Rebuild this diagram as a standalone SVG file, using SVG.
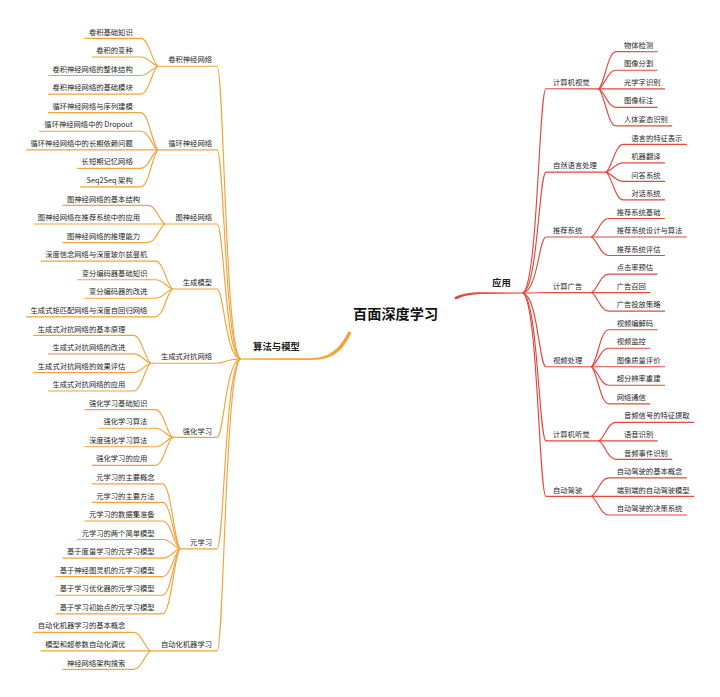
<svg xmlns="http://www.w3.org/2000/svg" width="720" height="697" viewBox="0 0 720 697">
<style>
text{font-family:"Noto Sans CJK SC","Noto Sans",sans-serif;fill:#262626;}
.l{font-size:7.3px;}
.e{text-anchor:end;}
.m{font-size:9.4px;font-weight:bold;fill:#1e1e1e;}
.c{font-size:14.2px;font-weight:bold;fill:#111;}
#connectors path{fill:none;stroke-width:1.15;stroke-linecap:round;}
#connectors .o{stroke:#F4A23A;}
#connectors .r{stroke:#E2483D;}
#connectors .of{fill:#F4A23A;stroke:none;}
#connectors .rf{fill:#E2483D;stroke:none;}
</style>
<rect width="720" height="697" fill="#fff"/>
<g id="connectors">
<path class="of" d="M240,358.4 L310,358.2 C329,358.1 338.5,350.4 348.6,331.3 L351.4,332.7 C341.5,353.6 331,360.1 310,359.9 L240,359.6 Z"/>
<path class="rf" d="M454.4,297.3 C461.5,293.8 470,292.2 482,292.3 L523,292.5 L523,293.5 L482,293.9 C470.5,294 463,296 455.6,299.7 Z"/>
<path class="o" d="M157.7,66.2 H217 C224,66.2 225,344.9 240,359"/>
<path class="o" d="M157.7,149.8 H217 C224,149.8 225,349 240,359"/>
<path class="o" d="M165,224 H217 C224,224 225,352.5 240,359"/>
<path class="o" d="M172.3,289 H217 C224,289 225,355.6 240,359"/>
<path class="o" d="M150.4,363.2 H217 C224,363.2 225,359.2 240,359"/>
<path class="o" d="M172.3,437.4 H217 C224,437.4 225,362.8 240,359"/>
<path class="o" d="M179.6,548.8 H217 C224,548.8 225,368.1 240,359"/>
<path class="o" d="M150.4,650.9 H217 C224,650.9 225,373 240,359"/>
<path class="o" d="M84.9,38.4 H140.7 C148.7,38.4 151.7,60.6 157.7,66.2"/>
<path class="o" d="M92.2,57 H140.7 C148.7,57 151.7,64.4 157.7,66.2"/>
<path class="o" d="M48.4,75.5 H140.7 C148.7,75.5 151.7,68.1 157.7,66.2"/>
<path class="o" d="M48.4,94.1 H140.7 C148.7,94.1 151.7,71.8 157.7,66.2"/>
<path class="o" d="M48.4,112.6 H140.7 C148.7,112.6 151.7,142.4 157.7,149.8"/>
<path class="o" d="M39.4,131.2 H140.7 C148.7,131.2 151.7,146.1 157.7,149.8"/>
<path class="o" d="M26.5,149.8 H157.7"/>
<path class="o" d="M77.6,168.3 H140.7 C148.7,168.3 151.7,153.5 157.7,149.8"/>
<path class="o" d="M80.7,186.9 H140.7 C148.7,186.9 151.7,157.2 157.7,149.8"/>
<path class="o" d="M63,205.4 H148 C156,205.4 159,220.3 165,224"/>
<path class="o" d="M33.8,224 H165"/>
<path class="o" d="M63,242.6 H148 C156,242.6 159,227.7 165,224"/>
<path class="o" d="M41.1,261.1 H155.3 C163.3,261.1 166.3,283.4 172.3,289"/>
<path class="o" d="M77.6,279.7 H155.3 C163.3,279.7 166.3,287.1 172.3,289"/>
<path class="o" d="M84.9,298.2 H155.3 C163.3,298.2 166.3,290.8 172.3,289"/>
<path class="o" d="M26.5,316.8 H155.3 C163.3,316.8 166.3,294.6 172.3,289"/>
<path class="o" d="M33.8,335.4 H133.4 C141.4,335.4 144.4,357.6 150.4,363.2"/>
<path class="o" d="M48.4,353.9 H133.4 C141.4,353.9 144.4,361.3 150.4,363.2"/>
<path class="o" d="M33.8,372.5 H133.4 C141.4,372.5 144.4,365.1 150.4,363.2"/>
<path class="o" d="M48.4,391 H133.4 C141.4,391 144.4,368.8 150.4,363.2"/>
<path class="o" d="M84.9,409.6 H155.3 C163.3,409.6 166.3,431.8 172.3,437.4"/>
<path class="o" d="M99.5,428.2 H155.3 C163.3,428.2 166.3,435.6 172.3,437.4"/>
<path class="o" d="M84.9,446.7 H155.3 C163.3,446.7 166.3,439.3 172.3,437.4"/>
<path class="o" d="M92.2,465.3 H155.3 C163.3,465.3 166.3,443 172.3,437.4"/>
<path class="o" d="M92.2,483.8 H162.6 C170.6,483.8 173.6,535.8 179.6,548.8"/>
<path class="o" d="M92.2,502.4 H162.6 C170.6,502.4 173.6,539.5 179.6,548.8"/>
<path class="o" d="M84.9,521 H162.6 C170.6,521 173.6,543.2 179.6,548.8"/>
<path class="o" d="M77.6,539.5 H162.6 C170.6,539.5 173.6,546.9 179.6,548.8"/>
<path class="o" d="M63,558.1 H162.6 C170.6,558.1 173.6,550.7 179.6,548.8"/>
<path class="o" d="M55.7,576.6 H162.6 C170.6,576.6 173.6,554.4 179.6,548.8"/>
<path class="o" d="M55.7,595.2 H162.6 C170.6,595.2 173.6,558.1 179.6,548.8"/>
<path class="o" d="M55.7,613.8 H162.6 C170.6,613.8 173.6,561.8 179.6,548.8"/>
<path class="o" d="M33.8,632.3 H133.4 C141.4,632.3 144.4,647.2 150.4,650.9"/>
<path class="o" d="M41.1,650.9 H150.4"/>
<path class="o" d="M63,669.4 H133.4 C141.4,669.4 144.4,654.6 150.4,650.9"/>
<path class="r" d="M523,293 C538,283.2 539,88.8 546,88.8 H599"/>
<path class="r" d="M523,293 C538,287.2 539,172.1 546,172.1 H606.3"/>
<path class="r" d="M523,293 C538,290.3 539,237 546,237 H591.7"/>
<path class="r" d="M523,293 C538,293 539,292.6 546,292.6 H591.7"/>
<path class="r" d="M523,293 C538,296.5 539,366.7 546,366.7 H591.7"/>
<path class="r" d="M523,293 C538,300.1 539,440.8 546,440.8 H599"/>
<path class="r" d="M523,293 C538,302.8 539,496.4 546,496.4 H591.7"/>
<path class="r" d="M599,88.8 C605,81.4 608,51.7 616,51.7 H657.2"/>
<path class="r" d="M599,88.8 C605,85.1 608,70.2 616,70.2 H657.2"/>
<path class="r" d="M599,88.8 H664.5"/>
<path class="r" d="M599,88.8 C605,92.5 608,107.3 616,107.3 H657.2"/>
<path class="r" d="M599,88.8 C605,96.2 608,125.8 616,125.8 H671.8"/>
<path class="r" d="M606.3,172.1 C612.3,166.6 615.3,144.4 623.3,144.4 H686.4"/>
<path class="r" d="M606.3,172.1 C612.3,170.3 615.3,162.9 623.3,162.9 H664.5"/>
<path class="r" d="M606.3,172.1 C612.3,174 615.3,181.4 623.3,181.4 H664.5"/>
<path class="r" d="M606.3,172.1 C612.3,177.7 615.3,199.9 623.3,199.9 H664.5"/>
<path class="r" d="M591.7,237 C597.7,233.3 600.7,218.5 608.7,218.5 H664.5"/>
<path class="r" d="M591.7,237 H686.4"/>
<path class="r" d="M591.7,237 C597.7,240.7 600.7,255.5 608.7,255.5 H664.5"/>
<path class="r" d="M591.7,292.6 C597.7,288.9 600.7,274.1 608.7,274.1 H657.2"/>
<path class="r" d="M591.7,292.6 H649.9"/>
<path class="r" d="M591.7,292.6 C597.7,296.3 600.7,311.1 608.7,311.1 H664.5"/>
<path class="r" d="M591.7,366.7 C597.7,359.3 600.7,329.7 608.7,329.7 H657.2"/>
<path class="r" d="M591.7,366.7 C597.7,363 600.7,348.2 608.7,348.2 H649.9"/>
<path class="r" d="M591.7,366.7 H664.5"/>
<path class="r" d="M591.7,366.7 C597.7,370.4 600.7,385.2 608.7,385.2 H664.5"/>
<path class="r" d="M591.7,366.7 C597.7,374.1 600.7,403.8 608.7,403.8 H649.9"/>
<path class="r" d="M599,440.8 C605,437.1 608,422.3 616,422.3 H693.7"/>
<path class="r" d="M599,440.8 H657.2"/>
<path class="r" d="M599,440.8 C605,444.5 608,459.4 616,459.4 H671.8"/>
<path class="r" d="M591.7,496.4 C597.7,492.7 600.7,477.9 608.7,477.9 H686.4"/>
<path class="r" d="M591.7,496.4 H693.7"/>
<path class="r" d="M591.7,496.4 C597.7,500.1 600.7,515 608.7,515 H686.4"/>
</g>
<g id="root"><text class="c" x="353" y="319.4">百面深度学习</text></g>
<g id="main-left"><text class="m" x="253" y="350.3">算法与模型</text></g>
<g id="main-right"><text class="m" x="492" y="285.7">应用</text></g>
<g id="cnn"><text class="l e" x="212" y="62.3">卷积神经网络</text></g>
<g id="cnn-1"><text class="l e" x="132.7" y="34.5">卷积基础知识</text></g>
<g id="cnn-2"><text class="l e" x="132.7" y="53.1">卷积的变种</text></g>
<g id="cnn-3"><text class="l e" x="132.7" y="71.6">卷积神经网络的整体结构</text></g>
<g id="cnn-4"><text class="l e" x="132.7" y="90.2">卷积神经网络的基础模块</text></g>
<g id="rnn"><text class="l e" x="212" y="145.9">循环神经网络</text></g>
<g id="rnn-1"><text class="l e" x="132.7" y="108.7">循环神经网络与序列建模</text></g>
<g id="rnn-2"><text class="l e" x="132.7" y="127.3">循环神经网络中的 Dropout</text></g>
<g id="rnn-3"><text class="l e" x="132.7" y="145.9">循环神经网络中的长期依赖问题</text></g>
<g id="rnn-4"><text class="l e" x="132.7" y="164.4">长短期记忆网络</text></g>
<g id="rnn-5"><text class="l e" x="132.7" y="183">Seq2Seq 架构</text></g>
<g id="gnn"><text class="l e" x="212" y="220.1">图神经网络</text></g>
<g id="gnn-1"><text class="l e" x="140" y="201.5">图神经网络的基本结构</text></g>
<g id="gnn-2"><text class="l e" x="140" y="220.1">图神经网络在推荐系统中的应用</text></g>
<g id="gnn-3"><text class="l e" x="140" y="238.7">图神经网络的推理能力</text></g>
<g id="gen"><text class="l e" x="212" y="285.1">生成模型</text></g>
<g id="gen-1"><text class="l e" x="147.3" y="257.2">深度信念网络与深度玻尔兹曼机</text></g>
<g id="gen-2"><text class="l e" x="147.3" y="275.8">变分编码器基础知识</text></g>
<g id="gen-3"><text class="l e" x="147.3" y="294.3">变分编码器的改进</text></g>
<g id="gen-4"><text class="l e" x="147.3" y="312.9">生成式矩匹配网络与深度自回归网络</text></g>
<g id="gan"><text class="l e" x="212" y="359.3">生成式对抗网络</text></g>
<g id="gan-1"><text class="l e" x="125.4" y="331.5">生成式对抗网络的基本原理</text></g>
<g id="gan-2"><text class="l e" x="125.4" y="350">生成式对抗网络的改进</text></g>
<g id="gan-3"><text class="l e" x="125.4" y="368.6">生成式对抗网络的效果评估</text></g>
<g id="gan-4"><text class="l e" x="125.4" y="387.1">生成式对抗网络的应用</text></g>
<g id="rl"><text class="l e" x="212" y="433.5">强化学习</text></g>
<g id="rl-1"><text class="l e" x="147.3" y="405.7">强化学习基础知识</text></g>
<g id="rl-2"><text class="l e" x="147.3" y="424.3">强化学习算法</text></g>
<g id="rl-3"><text class="l e" x="147.3" y="442.8">深度强化学习算法</text></g>
<g id="rl-4"><text class="l e" x="147.3" y="461.4">强化学习的应用</text></g>
<g id="meta"><text class="l e" x="212" y="544.9">元学习</text></g>
<g id="meta-1"><text class="l e" x="154.6" y="479.9">元学习的主要概念</text></g>
<g id="meta-2"><text class="l e" x="154.6" y="498.5">元学习的主要方法</text></g>
<g id="meta-3"><text class="l e" x="154.6" y="517.1">元学习的数据集准备</text></g>
<g id="meta-4"><text class="l e" x="154.6" y="535.6">元学习的两个简单模型</text></g>
<g id="meta-5"><text class="l e" x="154.6" y="554.2">基于度量学习的元学习模型</text></g>
<g id="meta-6"><text class="l e" x="154.6" y="572.7">基于神经图灵机的元学习模型</text></g>
<g id="meta-7"><text class="l e" x="154.6" y="591.3">基于学习优化器的元学习模型</text></g>
<g id="meta-8"><text class="l e" x="154.6" y="609.9">基于学习初始点的元学习模型</text></g>
<g id="automl"><text class="l e" x="212" y="647">自动化机器学习</text></g>
<g id="automl-1"><text class="l e" x="125.4" y="628.4">自动化机器学习的基本概念</text></g>
<g id="automl-2"><text class="l e" x="125.4" y="647">模型和超参数自动化调优</text></g>
<g id="automl-3"><text class="l e" x="125.4" y="665.5">神经网络架构搜索</text></g>
<g id="cv"><text class="l" x="553" y="84.9">计算机视觉</text></g>
<g id="cv-1"><text class="l" x="624" y="47.8">物体检测</text></g>
<g id="cv-2"><text class="l" x="624" y="66.3">图像分割</text></g>
<g id="cv-3"><text class="l" x="624" y="84.9">光学字识别</text></g>
<g id="cv-4"><text class="l" x="624" y="103.4">图像标注</text></g>
<g id="cv-5"><text class="l" x="624" y="121.9">人体姿态识别</text></g>
<g id="nlp"><text class="l" x="553" y="168.2">自然语言处理</text></g>
<g id="nlp-1"><text class="l" x="631.3" y="140.5">语言的特征表示</text></g>
<g id="nlp-2"><text class="l" x="631.3" y="159">机器翻译</text></g>
<g id="nlp-3"><text class="l" x="631.3" y="177.5">问答系统</text></g>
<g id="nlp-4"><text class="l" x="631.3" y="196">对话系统</text></g>
<g id="rec"><text class="l" x="553" y="233.1">推荐系统</text></g>
<g id="rec-1"><text class="l" x="616.7" y="214.6">推荐系统基础</text></g>
<g id="rec-2"><text class="l" x="616.7" y="233.1">推荐系统设计与算法</text></g>
<g id="rec-3"><text class="l" x="616.7" y="251.6">推荐系统评估</text></g>
<g id="ads"><text class="l" x="553" y="288.7">计算广告</text></g>
<g id="ads-1"><text class="l" x="616.7" y="270.2">点击率预估</text></g>
<g id="ads-2"><text class="l" x="616.7" y="288.7">广告召回</text></g>
<g id="ads-3"><text class="l" x="616.7" y="307.2">广告投放策略</text></g>
<g id="video"><text class="l" x="553" y="362.8">视频处理</text></g>
<g id="video-1"><text class="l" x="616.7" y="325.8">视频编解码</text></g>
<g id="video-2"><text class="l" x="616.7" y="344.3">视频监控</text></g>
<g id="video-3"><text class="l" x="616.7" y="362.8">图像质量评价</text></g>
<g id="video-4"><text class="l" x="616.7" y="381.3">超分辨率重建</text></g>
<g id="video-5"><text class="l" x="616.7" y="399.9">网络通信</text></g>
<g id="audio"><text class="l" x="553" y="436.9">计算机听觉</text></g>
<g id="audio-1"><text class="l" x="624" y="418.4">音频信号的特征提取</text></g>
<g id="audio-2"><text class="l" x="624" y="436.9">语音识别</text></g>
<g id="audio-3"><text class="l" x="624" y="455.5">音频事件识别</text></g>
<g id="ad"><text class="l" x="553" y="492.5">自动驾驶</text></g>
<g id="ad-1"><text class="l" x="616.7" y="474">自动驾驶的基本概念</text></g>
<g id="ad-2"><text class="l" x="616.7" y="492.5">端到端的自动驾驶模型</text></g>
<g id="ad-3"><text class="l" x="616.7" y="511.1">自动驾驶的决策系统</text></g>
</svg>
